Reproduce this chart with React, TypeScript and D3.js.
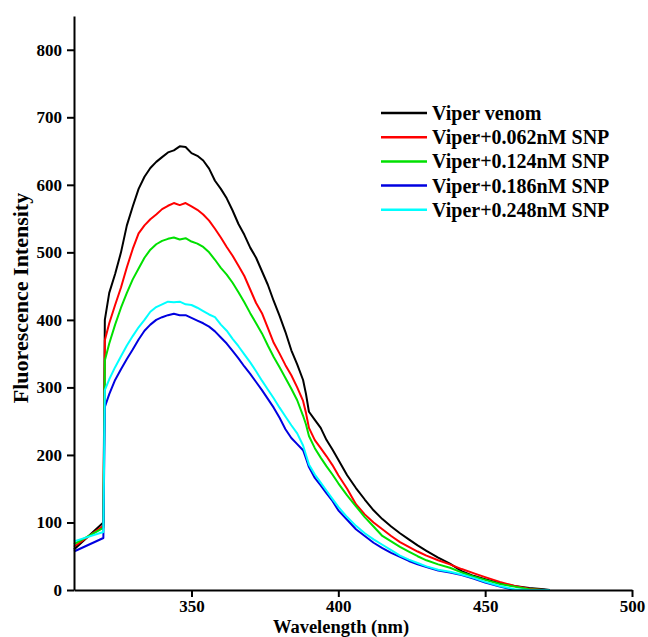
import React, { useEffect, useRef } from 'react';
import * as d3 from 'd3';

// wavelength grid (nm) shared by all spectra
const wavelengths = [310, 320, 320.5, 322, 324, 326, 328, 330, 332, 334, 336, 338, 340, 342, 344, 346, 348, 350, 352, 354, 356, 358, 360, 362, 364, 366, 368, 370, 372, 374, 376, 378, 380, 382, 384, 386, 388, 389, 390, 392, 394, 396, 398, 400, 403, 406, 409, 412, 415, 418, 421, 424, 427, 430, 434, 438, 442, 446, 450, 455, 460, 465, 470, 472];

const viperVenom = [60, 100, 400, 440, 468, 500, 540, 568, 594, 612, 625, 634, 641, 648, 651, 657, 656, 647, 643, 636, 624, 606, 594, 580, 562, 542, 526, 507, 492, 472, 452, 428, 406, 382, 355, 334, 311, 290, 264, 252, 240, 222, 208, 193, 170, 151, 134, 118, 105, 94, 84, 75, 66, 58, 48, 39, 28, 21, 16, 10, 6, 3, 1, 0];
const snp062 = [64, 95, 370, 395, 422, 448, 478, 505, 528, 540, 549, 556, 564, 569, 573, 570, 573, 568, 563, 556, 547, 535, 522, 508, 495, 480, 465, 445, 425, 410, 388, 366, 350, 333, 318, 300, 280, 262, 240, 222, 210, 198, 185, 170, 150, 127, 112, 100, 90, 80, 71, 64, 57, 51, 44, 38, 31, 25, 19, 12, 6, 2, 0, 0];
const snp124 = [68, 92, 340, 365, 393, 418, 440, 460, 476, 492, 504, 512, 517, 520, 522, 519, 521, 516, 513, 508, 500, 489, 477, 467, 455, 441, 426, 410, 395, 380, 362, 345, 330, 314, 298, 281, 258, 245, 228, 210, 196, 183, 171, 158, 140, 124, 108, 94, 80, 72, 64, 57, 50, 44, 38, 33, 26, 20, 15, 9, 5, 1, 0, 0];
const snp186 = [57, 77, 271, 290, 311, 327, 342, 356, 371, 384, 393, 400, 404, 407, 409, 407, 407, 403, 399, 395, 390, 383, 374, 365, 354, 343, 331, 320, 308, 296, 283, 270, 255, 238, 225, 216, 207, 195, 182, 166, 155, 143, 132, 118, 104, 90, 80, 70, 62, 55, 49, 43, 38, 34, 29, 26, 22, 17, 11, 5, 0, 0, 0, 0];
const snp248 = [72, 86, 296, 312, 330, 346, 362, 376, 389, 400, 412, 419, 423, 427, 426, 427, 423, 422, 418, 413, 408, 404, 393, 384, 372, 361, 349, 337, 324, 310, 297, 284, 270, 257, 244, 232, 214, 200, 186, 171, 159, 147, 135, 123, 108, 95, 84, 75, 67, 59, 51, 45, 40, 35, 30, 27, 23, 18, 12, 6, 1, 0, 0, 0];

const seriesNames = ['Viper venom', 'Viper+0.062nM SNP', 'Viper+0.124nM SNP', 'Viper+0.186nM SNP', 'Viper+0.248nM SNP'];
const seriesValues = [viperVenom, snp062, snp124, snp186, snp248];
const seriesColors = ['#000000', '#ff0000', '#00e000', '#0000e0', '#00ffff'];

const xTicks = [350, 400, 450, 500];
const yTicks = [0, 100, 200, 300, 400, 500, 600, 700, 800];

const W = 648, H = 637;
const font = "'Liberation Serif', 'Times New Roman', serif";

export default function App() {
  const ref = useRef<SVGSVGElement>(null);

  useEffect(() => {
    const svg = d3.select(ref.current);
    svg.selectAll('*').remove();

    const x = d3.scaleLinear().domain([310, 500]).range([74, 632]);
    const y = d3.scaleLinear().domain([0, 850]).range([590, 16]);

    // spectra
    const line = d3.line<number>()
      .x((d, i) => x(wavelengths[i]))
      .y(d => y(d));

    seriesValues.forEach((vals, k) => {
      svg.append('path')
        .attr('d', line(vals))
        .attr('fill', 'none')
        .attr('stroke', seriesColors[k])
        .attr('stroke-width', 2)
        .attr('stroke-linejoin', 'round');
    });

    // axes
    const xAxis = svg.append('g')
      .attr('transform', `translate(0,${y(0)})`)
      .call(d3.axisBottom(x).tickValues(xTicks).tickSize(7).tickSizeOuter(0).tickPadding(3));
    const yAxis = svg.append('g')
      .attr('transform', `translate(${x(310)},0)`)
      .call(d3.axisLeft(y).tickValues(yTicks).tickSize(7).tickSizeOuter(0).tickPadding(5));

    [xAxis, yAxis].forEach(g => {
      g.select('.domain').attr('stroke', '#000').attr('stroke-width', 2);
      g.selectAll('.tick line').attr('stroke', '#000').attr('stroke-width', 2);
      g.selectAll('.tick text')
        .attr('fill', '#000')
        .style('font-family', font)
        .style('font-weight', 'bold')
        .style('font-size', '17px');
    });

    // axis titles
    svg.append('text')
      .attr('x', 341)
      .attr('y', 633)
      .attr('text-anchor', 'middle')
      .style('font-family', font)
      .style('font-weight', 'bold')
      .style('font-size', '18.5px')
      .text('Wavelength (nm)');

    svg.append('text')
      .attr('transform', 'translate(28,298) rotate(-90)')
      .attr('text-anchor', 'middle')
      .style('font-family', font)
      .style('font-weight', 'bold')
      .style('font-size', '22px')
      .text('Fluorescence Intensity');

    // legend
    const legend = svg.append('g').attr('transform', 'translate(381,113)');
    seriesNames.forEach((name, k) => {
      const row = legend.append('g').attr('transform', `translate(0,${k * 24.2})`);
      row.append('line')
        .attr('x1', 0).attr('x2', 46)
        .attr('y1', 0).attr('y2', 0)
        .attr('stroke', seriesColors[k])
        .attr('stroke-width', 2.5);
      row.append('text')
        .attr('x', 51)
        .attr('y', 7)
        .style('font-family', font)
        .style('font-weight', 'bold')
        .style('font-size', '20px')
        .text(name);
    });
  }, []);

  return (
    <div style={{ position: 'absolute', left: 0, top: 0, background: '#fff' }}>
      <svg ref={ref} width={W} height={H} style={{ display: 'block' }}></svg>
    </div>
  );
}
